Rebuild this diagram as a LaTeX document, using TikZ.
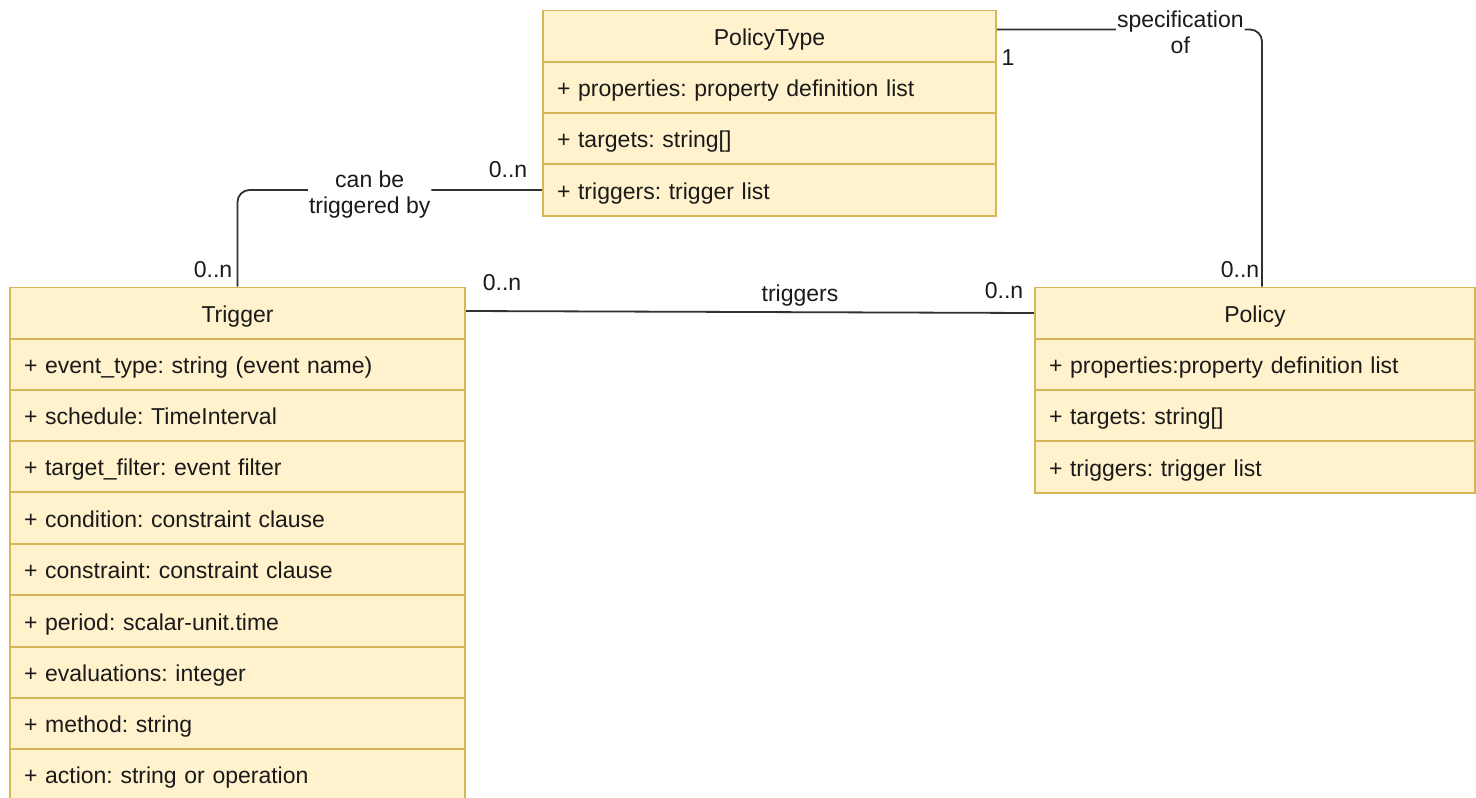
\documentclass[tikz,border=0pt]{standalone}
\usepackage{fontspec}
\setmainfont{Liberation Sans}
\frenchspacing
\usetikzlibrary{calc}
\pgfdeclarelayer{edgelayer}
\pgfdeclarelayer{nodelayer}
\pgfsetlayers{edgelayer,nodelayer,main}
\definecolor{umlfill}{HTML}{FFF2CC}
\definecolor{umlline}{HTML}{D6B656}
\definecolor{umltext}{HTML}{1A1A1A}
\tikzset{font=\fontsize{23}{26}\selectfont}
\tikzset{head/.style={draw=umlline,fill=umlfill,line width=1.6pt,text=umltext,inner sep=0pt,minimum height=51.4pt,minimum width=#1,text height=22.5pt,text depth=4pt}}
\tikzset{row/.style={head=10pt,align=left,inner xsep=14pt,text width=#1}}
\tikzstyle{none}=[inner sep=0pt]
\tikzstyle{lbl}=[inner sep=1pt,text=umltext]
\tikzstyle{edge}=[line width=1.8pt,draw=umltext!90]

\begin{document}
\begin{tikzpicture}[x=1pt,y=-1pt]
	\useasboundingbox (0,0) rectangle (1476,798);
	\begin{pgfonlayer}{nodelayer}
		% PolicyType
		\node [head=453pt] (ptH) at (769.5, 36) {PolicyType};
		\node [row=425pt] (ptR1) at (769.5, 87.5) {+ properties: property definition list};
		\node [row=425pt] (ptR2) at (769.5, 138.5) {+ targets: string[]};
		\node [row=425pt] (ptR3) at (769.5, 190) {+ triggers: trigger list};
		% Trigger
		\node [head=455pt] (tH) at (237.5, 313) {Trigger};
		\node [row=427pt] (tR1) at (237.5, 364.5) {+ event\_type: string (event name)};
		\node [row=427pt] (tR2) at (237.5, 415.5) {+ schedule: TimeInterval};
		\node [row=427pt] (tR3) at (237.5, 466.5) {+ target\_filter: event filter};
		\node [row=427pt] (tR4) at (237.5, 518) {+ condition: constraint clause};
		\node [row=427pt] (tR5) at (237.5, 569.5) {+ constraint: constraint clause};
		\node [row=427pt] (tR6) at (237.5, 621) {+ period: scalar-unit.time};
		\node [row=427pt] (tR7) at (237.5, 672.5) {+ evaluations: integer};
		\node [row=427pt] (tR8) at (237.5, 723.5) {+ method: string};
		\node [row=427pt] (tR9) at (237.5, 774.5) {+ action: string or operation};
		% Policy
		\node [head=440pt] (pH) at (1255, 313) {Policy};
		\node [row=412pt] (pR1) at (1255, 364.5) {+ properties:property definition list};
		\node [row=412pt] (pR2) at (1255, 415.5) {+ targets: string[]};
		\node [row=412pt] (pR3) at (1255, 467) {+ triggers: trigger list};
		% multiplicities
		\node [style=lbl] (m1) at (1008, 58) {1};
		\node [style=lbl] (m2) at (1240, 270) {0..n};
		\node [style=lbl] (m3) at (508, 170) {0..n};
		\node [style=lbl] (m4) at (213, 270) {0..n};
		\node [style=lbl] (m5) at (502, 283) {0..n};
		\node [style=lbl] (m6) at (1004, 291) {0..n};
		\node [style=lbl] (trg) at (800, 296) {triggers};
	\end{pgfonlayer}
	\begin{pgfonlayer}{edgelayer}
		\draw [style=edge, rounded corners=12pt] ($(ptH.north east)+(0,20)$) -| node [style=lbl, fill=white, align=center, pos=0.346, yshift=-3pt] (specof) {specification\\of} ($(pH.north)+(7,0)$);
		\draw [style=edge, rounded corners=12pt] (ptR3.west) -| node [style=lbl, fill=white, align=center, pos=0.283, yshift=-5pt] (canbe) {can be\\triggered by} (tH.north);
		\draw [style=edge] ($(tH.east)+(0,-2)$) -- (pH.west);
	\end{pgfonlayer}
\end{tikzpicture}
\end{document}
